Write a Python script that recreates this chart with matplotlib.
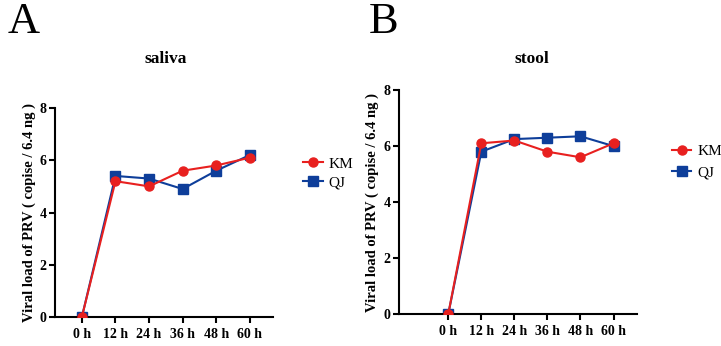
import matplotlib
matplotlib.use("Agg")
import matplotlib.pyplot as plt

# ------ data ------
hours = [0, 12, 24, 36, 48, 60]
tick_labels = ["0 h", "12 h", "24 h", "36 h", "48 h", "60 h"]

saliva_km = [0.0, 5.2, 5.0, 5.6, 5.8, 6.1]
saliva_qj = [0.0, 5.4, 5.3, 4.9, 5.6, 6.2]

stool_km = [0.0, 6.1, 6.2, 5.8, 5.6, 6.1]
stool_qj = [0.0, 5.8, 6.25, 6.3, 6.35, 6.0]

red = "#E8201F"
blue = "#0E3E9A"

plt.rcParams["font.family"] = ["Liberation Serif", "DejaVu Serif"]

fig = plt.figure(figsize=(7.21, 3.46), dpi=100)

panels = [
    # letter, title, km, qj, axes rect, xlim, legend anchor, legend spacing, letter x, title x
    ("A", "saliva", saliva_km, saliva_qj, [0.0763, 0.0838, 0.302, 0.604], (-9.6, 68.2), (1.138, 0.765), 0.33, 0.010, 0.230),
    ("B", "stool", stool_km, stool_qj, [0.553, 0.0925, 0.330, 0.647], (-18.0, 68.4), (1.147, 0.757), 0.5, 0.512, 0.738),
]

for letter, title, km, qj, rect, xlim, anchor, lsp, lx, tx in panels:
    ax = fig.add_axes(rect)
    ax.plot(hours, qj, color=blue, marker="s", markersize=6.5, linewidth=1.5, label="QJ", zorder=2)
    ax.plot(hours, km, color=red, marker="o", markersize=6.5, linewidth=1.5, label="KM", zorder=3)
    ax.set_xlim(*xlim)
    ax.set_ylim(0, 8)
    ax.set_yticks([0, 2, 4, 6, 8])
    ax.set_xticks(hours)
    ax.set_xticklabels(tick_labels)
    for s in ["top", "right"]:
        ax.spines[s].set_visible(False)
    for s in ["left", "bottom"]:
        ax.spines[s].set_linewidth(1.5)
    ax.tick_params(width=1.5, length=4, labelsize=10)
    ax.tick_params(axis="x", pad=4)
    ax.tick_params(axis="y", pad=2)
    for lab in ax.get_xticklabels() + ax.get_yticklabels():
        lab.set_fontweight("bold")
    ax.set_ylabel("Viral load of PRV ( copise / 6.4 ng )", fontsize=10.5, fontweight="bold", labelpad=3)

    # legend: KM first, QJ second
    h, l = ax.get_legend_handles_labels()
    ax.legend(h[::-1], l[::-1], loc="upper left", bbox_to_anchor=anchor, frameon=False,
              borderaxespad=0, borderpad=0, fontsize=11, handlelength=1.3,
              handletextpad=0.4, labelspacing=lsp)

    fig.text(tx, 0.83, title, ha="center", va="center", fontsize=12.5, fontweight="bold")
    fig.text(lx, 0.935, letter, ha="left", va="center", fontsize=32)

fig.savefig("out.png", dpi=100)
